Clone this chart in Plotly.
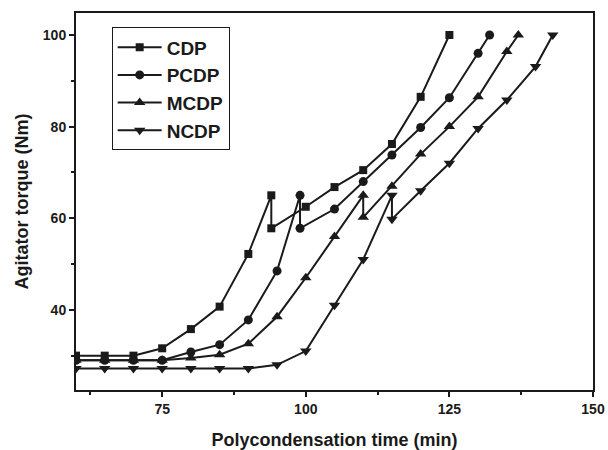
import plotly.graph_objects as go

# Data
cdp_x = [60, 65, 70, 75, 80, 85, 90, 94, 94, 100, 105, 110, 115, 120, 125]
cdp_y = [30, 30, 30, 31.6, 35.8, 40.7, 52.2, 65, 57.8, 62.5, 66.8, 70.5, 76.2, 86.5, 100]

pcdp_x = [60, 65, 70, 75, 80, 85, 90, 95, 99, 99, 105, 110, 115, 120, 125, 130, 132]
pcdp_y = [29, 29, 29, 29, 30.8, 32.4, 37.8, 48.5, 65, 57.8, 62, 68, 73.8, 79.8, 86.3, 96, 100]

mcdp_x = [60, 65, 70, 75, 80, 85, 90, 95, 100, 105, 110, 110, 115, 120, 125, 130, 135, 137]
mcdp_y = [29, 29, 29, 29, 29.5, 30.2, 32.6, 38.5, 47, 56, 65, 60.2, 67, 74, 80, 86.5, 96.4, 100]

ncdp_x = [60, 65, 70, 75, 80, 85, 90, 95, 100, 105, 110, 115, 115, 120, 125, 130, 135, 140, 143]
ncdp_y = [27.2, 27.2, 27.2, 27.2, 27.2, 27.2, 27.2, 28, 31, 41, 51, 65, 59.8, 66, 72, 79.6, 85.8, 93.1, 100]

series = [
    ("CDP", cdp_x, cdp_y, "square", 8),
    ("PCDP", pcdp_x, pcdp_y, "circle", 9),
    ("MCDP", mcdp_x, mcdp_y, "triangle-up", 10),
    ("NCDP", ncdp_x, ncdp_y, "triangle-down", 10),
]

INK = "#1a1a1a"
FONT = "Liberation Sans, Arial, sans-serif"

fig = go.Figure()
for name, xs, ys, sym, sz in series:
    fig.add_trace(go.Scatter(
        x=xs, y=ys, name=name, mode="lines+markers",
        line=dict(color=INK, width=2),
        marker=dict(symbol=sym, size=sz, color=INK),
    ))

axis_common = dict(
    showline=True, linecolor=INK, linewidth=2, mirror=True,
    ticks="outside", ticklen=5, tickwidth=2, tickcolor=INK,
    showgrid=False, zeroline=False, automargin=False,
    tickfont=dict(family=FONT, size=14, color=INK, weight="bold"),
)

fig.update_layout(
    width=608, height=450,
    margin=dict(l=76, r=15, t=13, b=60),
    paper_bgcolor="white", plot_bgcolor="white",
    xaxis=dict(
        range=[60, 150], tick0=0, dtick=25,
        minor=dict(ticks="outside", ticklen=3, tickwidth=2, tickcolor=INK, dtick=12.5, tick0=0),
        title=dict(text="Polycondensation time (min)", standoff=19,
                   font=dict(family=FONT, size=18, color=INK, weight="bold")),
        **axis_common,
    ),
    yaxis=dict(
        range=[22.5, 104.8], tick0=0, dtick=20,
        minor=dict(ticks="outside", ticklen=3, tickwidth=2, tickcolor=INK, dtick=10, tick0=0),
        title=dict(text="Agitator torque (Nm)", standoff=10,
                   font=dict(family=FONT, size=18, color=INK, weight="bold")),
        **axis_common,
    ),
    legend=dict(
        x=0.069, y=0.962, xanchor="left", yanchor="top",
        bgcolor="white", bordercolor=INK, borderwidth=1,
        font=dict(family=FONT, size=19, color=INK, weight="bold"),
        tracegroupgap=0, itemwidth=44,
    ),
    showlegend=True,
)

fig.write_html(
    "out.html",
    config={"displayModeBar": False},
    post_script="document.body.style.margin='0';document.body.style.padding='0';document.body.style.overflow='hidden';",
)
